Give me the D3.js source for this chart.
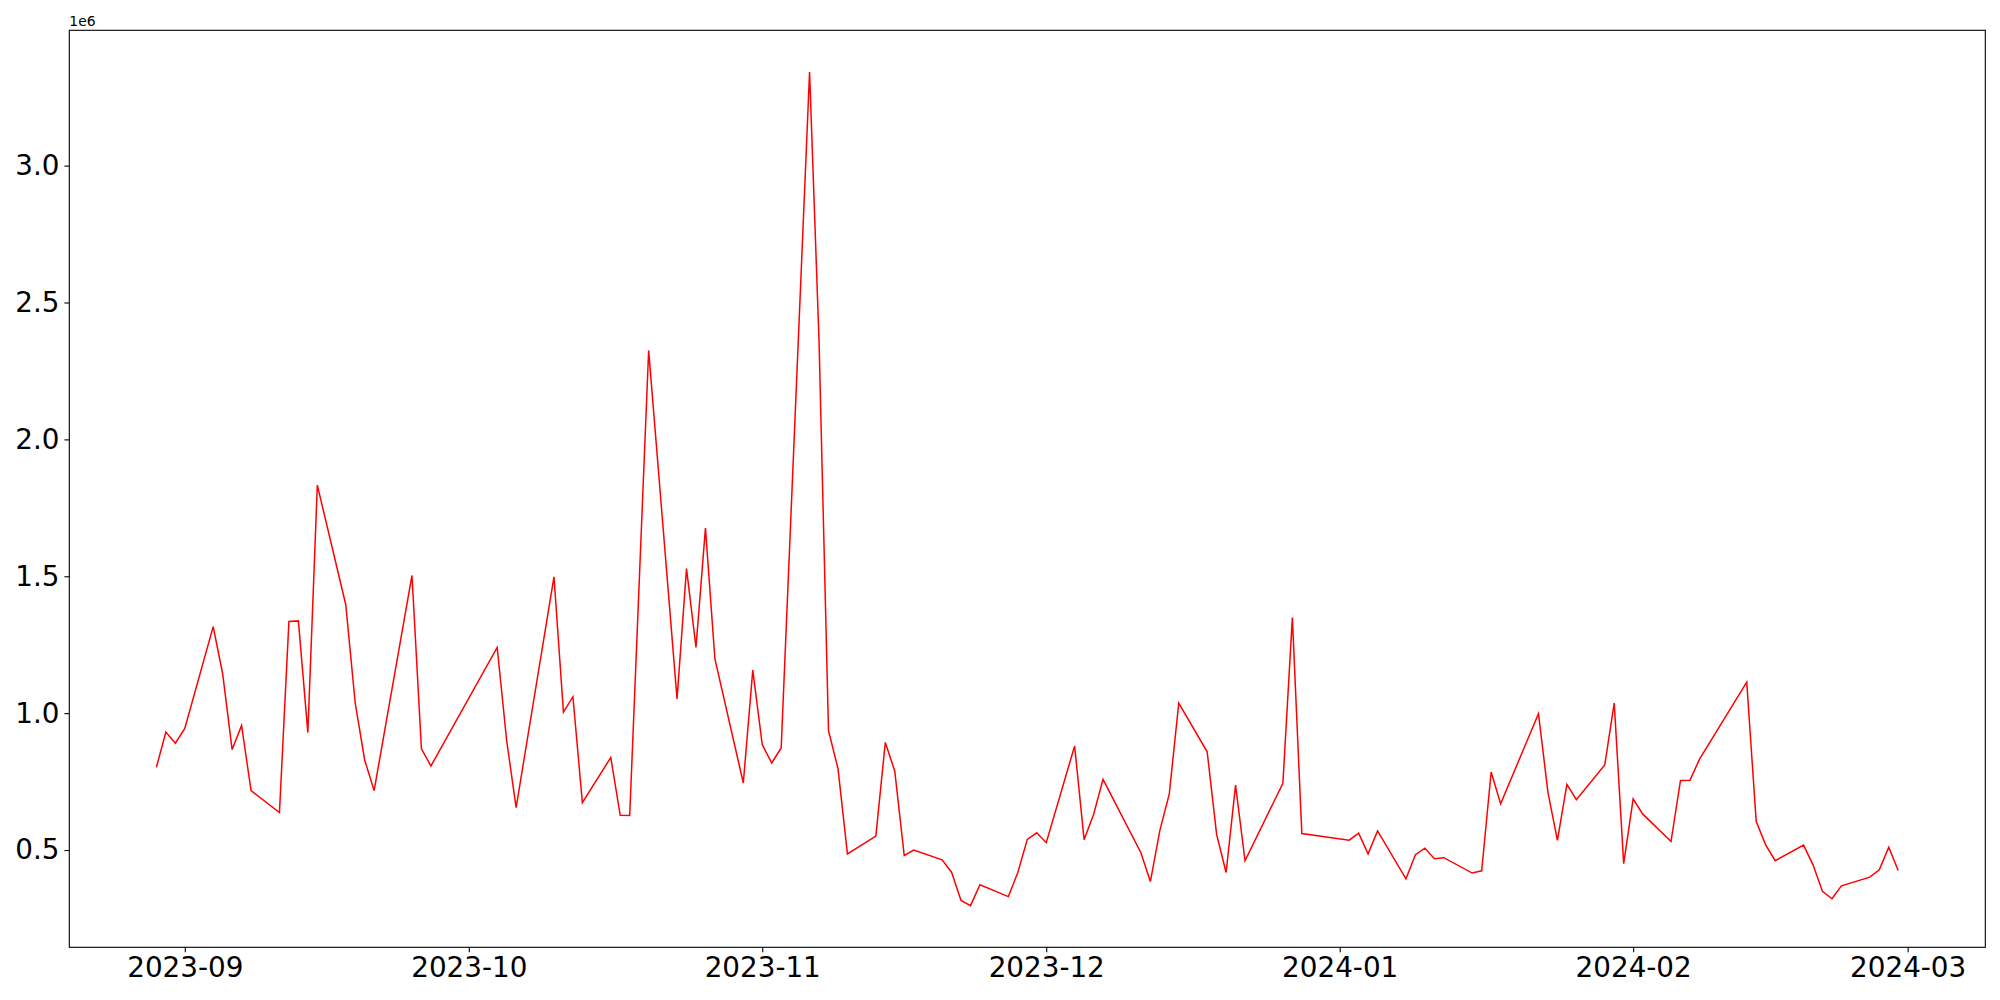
<!DOCTYPE html>
<html>
<head>
<meta charset="utf-8">
<script src="https://cdn.jsdelivr.net/npm/d3@7"></script>
<style>
  body { margin: 0; background: #fff; }
  svg { display: block; font-family: "DejaVu Sans", sans-serif; }
  .axis path, .axis line { stroke: #000; stroke-width: 1.1px; }
  .axis text { font-family: "DejaVu Sans", sans-serif; font-size: 27.8px; fill: #000; }
</style>
</head>
<body>
<div class="chart"></div>
<script>
// values, y values in millions (axis offset label "1e6")
var dates = [
  "2023-08-29","2023-08-30","2023-08-31","2023-09-01","2023-09-04","2023-09-05","2023-09-06","2023-09-07","2023-09-08",
  "2023-09-11","2023-09-12","2023-09-13","2023-09-14","2023-09-15","2023-09-18","2023-09-19","2023-09-20","2023-09-21",
  "2023-09-25","2023-09-26","2023-09-27","2023-10-04","2023-10-05","2023-10-06","2023-10-10","2023-10-11","2023-10-12",
  "2023-10-13","2023-10-16","2023-10-17","2023-10-18","2023-10-20","2023-10-23","2023-10-24","2023-10-25","2023-10-26",
  "2023-10-27","2023-10-30","2023-10-31","2023-11-01","2023-11-02","2023-11-03","2023-11-06","2023-11-07","2023-11-08",
  "2023-11-09","2023-11-10","2023-11-13","2023-11-14","2023-11-15","2023-11-16","2023-11-17","2023-11-20","2023-11-21",
  "2023-11-22","2023-11-23","2023-11-24","2023-11-27","2023-11-28","2023-11-29","2023-11-30","2023-12-01","2023-12-04",
  "2023-12-05","2023-12-06","2023-12-07","2023-12-11","2023-12-12","2023-12-13","2023-12-14","2023-12-15","2023-12-18",
  "2023-12-19","2023-12-20","2023-12-21","2023-12-22","2023-12-26","2023-12-27","2023-12-28","2024-01-02","2024-01-03",
  "2024-01-04","2024-01-05","2024-01-08","2024-01-09","2024-01-10","2024-01-11","2024-01-12","2024-01-15","2024-01-16",
  "2024-01-17","2024-01-18","2024-01-22","2024-01-23","2024-01-24","2024-01-25","2024-01-26","2024-01-29","2024-01-30",
  "2024-01-31","2024-02-01","2024-02-02","2024-02-05","2024-02-06","2024-02-07","2024-02-08","2024-02-13","2024-02-14",
  "2024-02-15","2024-02-16","2024-02-19","2024-02-20","2024-02-21","2024-02-22","2024-02-23","2024-02-26","2024-02-27",
  "2024-02-28","2024-02-29"
];

var values = [
  0.802, 0.931, 0.890, 0.944, 1.316, 1.144, 0.867, 0.955, 0.717,
  0.637, 1.335, 1.337, 0.929, 1.833, 1.397, 1.038, 0.829, 0.717,
  1.503, 0.870, 0.807, 1.240, 0.900, 0.655, 1.498, 1.004, 1.060,
  0.673, 0.838, 0.627, 0.626, 2.325, 1.052, 1.528, 1.240, 1.676,
  1.198, 0.745, 1.157, 0.885, 0.818, 0.873, 3.342, 2.359, 0.936,
  0.798, 0.486, 0.551, 0.893, 0.788, 0.480, 0.500, 0.464, 0.419,
  0.316, 0.297, 0.373, 0.330, 0.418, 0.539, 0.563, 0.527, 0.880,
  0.538, 0.630, 0.758, 0.490, 0.385, 0.571, 0.705, 1.037, 0.859,
  0.557, 0.418, 0.737, 0.461, 0.744, 1.349, 0.560, 0.536, 0.562,
  0.486, 0.570, 0.395, 0.483, 0.507, 0.468, 0.472, 0.416, 0.424,
  0.785, 0.669, 0.998, 0.711, 0.535, 0.740, 0.684, 0.811, 1.037,
  0.450, 0.687, 0.632, 0.531, 0.754, 0.755, 0.831, 1.113, 0.604,
  0.519, 0.461, 0.518, 0.446, 0.349, 0.322, 0.369, 0.401, 0.428,
  0.510, 0.425
];

var yTicks = [0.5, 1.0, 1.5, 2.0, 2.5, 3.0];
var offsetLabel = "1e6";

var margin = {top: 30.3, right: 14.7, bottom: 52.7, left: 69.3},
    width = 2000 - margin.left - margin.right,
    height = 1000 - margin.top - margin.bottom;

var parseDate = d3.timeParse("%Y-%m-%d");
var data = dates.map(function(d, i) { return {date: parseDate(d), value: values[i]}; });

var svg = d3.select(".chart").append("svg")
    .attr("width", 2000)
    .attr("height", 1000)
  .append("g")
    .attr("transform", "translate(" + margin.left + "," + margin.top + ")");

// matplotlib style 5% margins on both axes
var xExt = d3.extent(data, function(d) { return +d.date; });
var xPad = (xExt[1] - xExt[0]) * 0.05;
var x = d3.scaleTime()
    .domain([new Date(xExt[0] - xPad), new Date(xExt[1] + xPad)])
    .range([0, width]);

var yExt = d3.extent(data, function(d) { return d.value; });
var yPad = (yExt[1] - yExt[0]) * 0.05;
var y = d3.scaleLinear()
    .domain([yExt[0] - yPad, yExt[1] + yPad])
    .range([height, 0]);

var line = d3.line()
    .x(function(d) { return x(d.date); })
    .y(function(d) { return y(d.value); });

svg.append("path")
    .datum(data)
    .attr("fill", "none")
    .attr("stroke", "red")
    .attr("stroke-width", 1.5)
    .attr("stroke-linejoin", "miter")
    .attr("d", line);

var xAxis = d3.axisBottom(x)
    .ticks(d3.timeMonth.every(1))
    .tickFormat(d3.timeFormat("%Y-%m"))
    .tickSizeInner(4.9)
    .tickSizeOuter(0)
    .tickPadding(4.9);

var yAxis = d3.axisLeft(y)
    .tickValues(yTicks)
    .tickFormat(d3.format(".1f"))
    .tickSizeInner(4.9)
    .tickSizeOuter(0)
    .tickPadding(4.9);

svg.append("g")
    .attr("class", "x axis")
    .attr("transform", "translate(0," + height + ")")
    .call(xAxis)
    .call(function(g) { g.select(".domain").remove(); });

svg.append("g")
    .attr("class", "y axis")
    .call(yAxis)
    .call(function(g) { g.select(".domain").remove(); });

// frame round the plot area
svg.append("rect")
    .attr("width", width)
    .attr("height", height)
    .attr("fill", "none")
    .attr("stroke", "#000")
    .attr("stroke-width", 1.1);

svg.append("text")
    .attr("x", 0)
    .attr("y", -4)
    .style("font-size", "13.9px")
    .text(offsetLabel);
</script>
</body>
</html>
